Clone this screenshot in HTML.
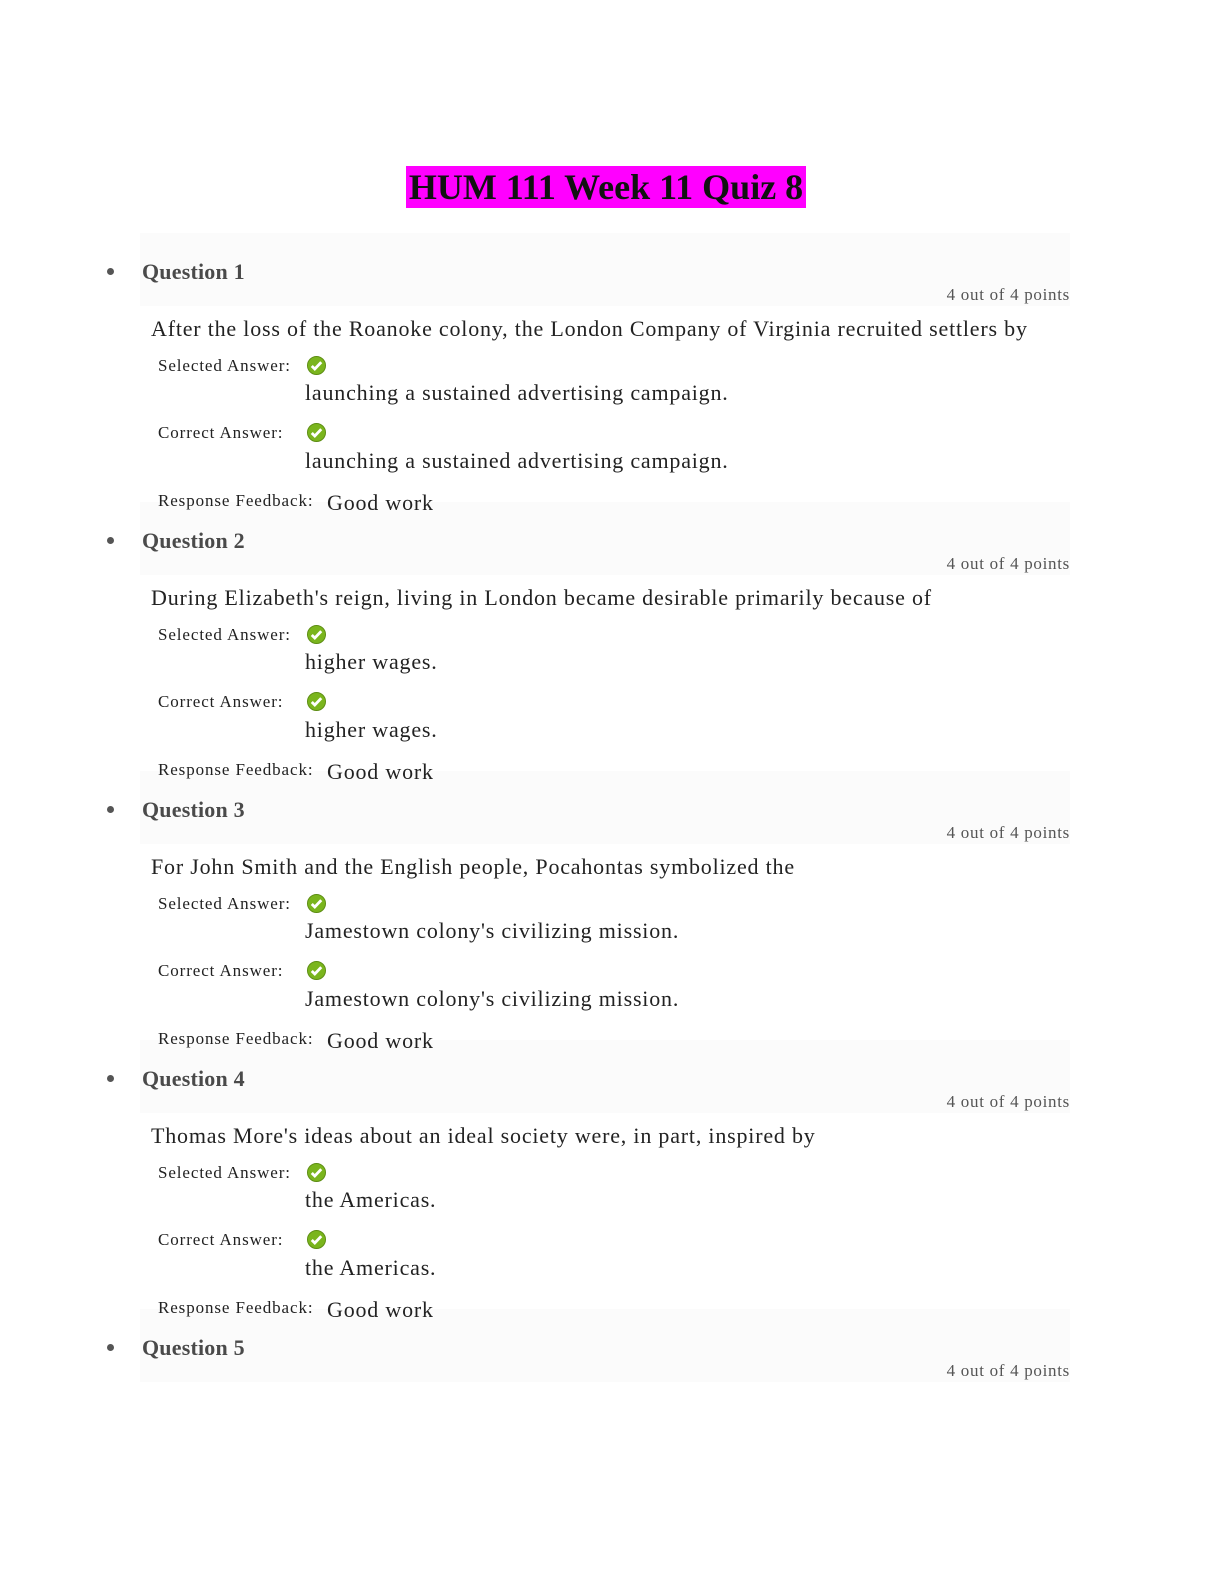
<!DOCTYPE html>
<html><head><meta charset="utf-8"><style>
html,body{margin:0;padding:0;background:#fff;overflow:hidden;width:1224px;height:1584px;}
#p{position:relative;width:1224px;height:1584px;overflow:hidden;font-family:"Liberation Serif",serif;}
.a{position:absolute;white-space:nowrap;line-height:1;}
.band{position:absolute;left:140px;width:930px;height:73px;background:#fbfbfb;}
.q{font-size:22px;font-weight:bold;color:#4a4a4a;letter-spacing:0.2px;}
.pt{font-size:17px;color:#555;right:154px;letter-spacing:0.7px;}
.t{font-size:22px;color:#222;letter-spacing:0.8px;}
.l{font-size:17px;color:#222;letter-spacing:0.9px;}
.b{width:7px;height:7px;border-radius:50%;background:#555;}
.ck{position:absolute;width:19px;height:19px;}
</style></head><body><div id="p">
<div class="a" style="left:406px;top:166px;width:400px;height:42px;background:#ff00ff;"></div>
<div class="a" style="left:406px;top:169px;width:400px;text-align:center;font-size:36px;font-weight:bold;color:#111;">HUM 111 Week 11 Quiz 8</div>
<div id="c"></div>
</div>
<script>
var data=[
["1","After the loss of the Roanoke colony, the London Company of Virginia recruited settlers by","launching a sustained advertising campaign."],
["2","During Elizabeth's reign, living in London became desirable primarily because of","higher wages."],
["3","For John Smith and the English people, Pocahontas symbolized the","Jamestown colony's civilizing mission."],
["4","Thomas More's ideas about an ideal society were, in part, inspired by","the Americas."],
["5",null,null]];
var ck='<svg viewBox="0 0 20 20" width="19" height="19"><circle cx="10" cy="10" r="9.5" fill="#7ab51d"/><circle cx="10" cy="10" r="9.5" fill="none" stroke="#5d8d13" stroke-width="1"/><path d="M5 10.5l3.2 3.2L15 6.5" fill="none" stroke="#fff" stroke-width="3"/></svg>';
var h='';
data.forEach(function(d,i){var o=i*269;
h+='<div class="band" style="top:'+(233+o)+'px"></div>';});
data.forEach(function(d,i){var o=i*269;
h+='<div class="a b" style="left:107px;top:'+(268+o)+'px"></div>';
h+='<div class="a q" style="left:142px;top:'+(261+o)+'px">Question '+d[0]+'</div>';
h+='<div class="a pt" style="top:'+(286+o)+'px">4 out of 4 points</div>';
if(d[1]){
h+='<div class="a t" style="left:151px;top:'+(318+o)+'px">'+d[1]+'</div>';
h+='<div class="a l" style="left:158px;top:'+(357+o)+'px">Selected Answer:</div>';
h+='<div class="ck" style="left:307px;top:'+(356+o)+'px">'+ck+'</div>';
h+='<div class="a t" style="left:305px;top:'+(382+o)+'px">'+d[2]+'</div>';
h+='<div class="a l" style="left:158px;top:'+(424+o)+'px">Correct Answer:</div>';
h+='<div class="ck" style="left:307px;top:'+(423+o)+'px">'+ck+'</div>';
h+='<div class="a t" style="left:305px;top:'+(450+o)+'px">'+d[2]+'</div>';
h+='<div class="a l" style="left:158px;top:'+(492+o)+'px">Response Feedback:</div>';
h+='<div class="a t" style="left:327px;top:'+(492+o)+'px">Good work</div>';
}});
document.getElementById('c').outerHTML=h;
</script>
</body></html>
